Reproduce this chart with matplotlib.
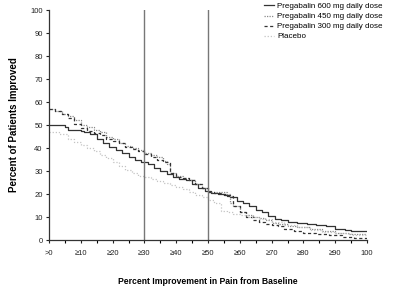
import matplotlib
matplotlib.use('Agg')
import matplotlib.pyplot as plt
import numpy as np

# percent improvement thresholds and % of patients improved (step curves)
x600 = [0, 5, 6, 10, 11, 13, 15, 17, 19, 21, 23, 25, 27, 29, 31, 33, 35, 37, 39, 41, 43, 45, 47, 49, 51, 53,
        55, 57, 59, 61, 63, 65, 67, 69, 71, 73, 75, 78, 81, 84, 87, 90, 93, 95, 100]
y600 = [50, 49, 48, 47.5, 47, 46, 44, 42, 40.5, 39, 38, 36, 35, 34, 33, 31.5, 30, 28.5, 27.5, 26.5, 26, 24.5,
        22.5, 21.5, 20.5, 20, 19.5, 18.5, 17, 16, 15, 13, 12, 10.5, 9, 8.5, 8, 7.5, 7, 6.5, 6, 5, 4.5, 4, 4]

x450 = [0, 2, 4, 6, 8, 10, 12, 14, 16, 18, 20, 22, 24, 26, 28, 30, 32, 34, 36, 37, 38, 40, 42, 44, 46, 48,
        50, 52, 54, 56, 57, 58, 60, 62, 64, 66, 68, 70, 72, 75, 78, 82, 86, 90, 94, 100]
y450 = [57, 56, 55, 54, 52, 50, 49, 48, 47, 45, 44, 42, 41, 40, 39, 38, 37, 36, 34.5, 33, 29, 28, 27, 26,
        24.5, 22.5, 21, 21, 21, 20, 16, 15, 12, 11, 10, 9.5, 8.5, 7.5, 7, 6, 5.5, 5, 4, 3, 2.5, 2]

x300 = [0, 2, 4, 6, 8, 10, 12, 14, 16, 18, 20, 22, 24, 26, 28, 30, 32, 34, 36, 38, 40, 42, 44, 46, 48, 50,
        52, 54, 56, 58, 60, 62, 64, 66, 68, 70, 72, 74, 77, 80, 84, 88, 92, 96, 100]
y300 = [57, 56, 55, 53, 50.5, 48.5, 47.5, 46.5, 45.5, 44, 43, 42, 40.5, 39.5, 38.5, 37.5, 36, 35, 34, 29,
        27.5, 27, 26, 24.5, 22.5, 21, 20.5, 20, 19, 15, 12, 10, 8.5, 8, 7, 6.5, 6, 5, 4, 3, 2.5, 2, 1.5, 1, 0.5]

xpl = [0, 3, 6, 8, 10, 12, 14, 16, 18, 20, 22, 24, 26, 28, 30, 32, 34, 36, 38, 40, 42, 44, 46, 48, 50, 52,
       54, 56, 58, 60, 63, 66, 70, 74, 78, 82, 86, 90, 95, 100]
ypl = [47, 46, 44, 42.5, 41.5, 40, 38.5, 37, 35.5, 34, 32, 30.5, 29, 28, 27.5, 26.5, 25.5, 25, 24, 23, 22,
       21, 19.5, 18.5, 17.5, 16, 12.5, 12, 11.5, 11, 10, 9, 8, 6.5, 5.5, 4.5, 3.5, 3, 2, 2]

xticks = list(range(0, 101, 10))
xticklabels = ['>0', '≥10', '≥20', '≥30', '≥40', '≥50', '≥60', '≥70', '≥80', '≥90', '100']

plt.rcParams['font.family'] = ['Liberation Sans', 'DejaVu Sans']

fig = plt.figure(figsize=(4.0, 2.98), dpi=100)
ax = fig.add_axes([0.1225, 0.1946, 0.795, 0.7718])

l1, = ax.step(x600, y600, where='post', color='#333333', lw=0.9, label='Pregabalin 600 mg daily dose')
l2, = ax.step(x450, y450, where='post', color='#8a8a8a', lw=0.9, ls=(0, (1, 1)),
              label='Pregabalin 450 mg daily dose')
l3, = ax.step(x300, y300, where='post', color='#333333', lw=0.9, ls=(0, (2.5, 2)),
              label='Pregabalin 300 mg daily dose')
l4, = ax.step(xpl, ypl, where='post', color='#c4c4c4', lw=0.9, ls=(0, (1, 1.5)), label='Placebo')

# reference lines at 30% and 50% improvement
ax.axvline(30, color='#777777', lw=1.0)
ax.axvline(50, color='#777777', lw=1.0)

ax.set_xlim(0, 100)
ax.set_ylim(0, 100)
ax.set_xticks(xticks)
ax.set_xticklabels(xticklabels)
ax.set_xticks(range(0, 101, 5), minor=True)
ax.set_yticks(range(0, 101, 10))
ax.tick_params(axis='both', labelsize=5.5, length=2.5, width=0.8, colors='#222222', pad=2)
ax.tick_params(axis='x', which='minor', length=2.5, width=0.8)
ax.tick_params(axis='x', pad=5)
for s in ['top', 'right']:
    ax.spines[s].set_visible(False)
for s in ['left', 'bottom']:
    ax.spines[s].set_linewidth(0.9)
    ax.spines[s].set_color('#333333')

ax.set_ylabel('Percent of Patients Improved', fontsize=7, fontweight='bold', labelpad=8)
fig.text(0.52, 0.057, 'Percent Improvement in Pain from Baseline', fontsize=6.2, fontweight='bold',
         ha='center', va='center')

fig.legend(handles=[l1, l2, l3, l4], loc='upper left', bbox_to_anchor=(0.645, 1.01), frameon=False,
           fontsize=5.8, handlelength=1.3, handletextpad=0.4, labelspacing=0.3, borderpad=0.2)

fig.savefig('out.png', dpi=100)
